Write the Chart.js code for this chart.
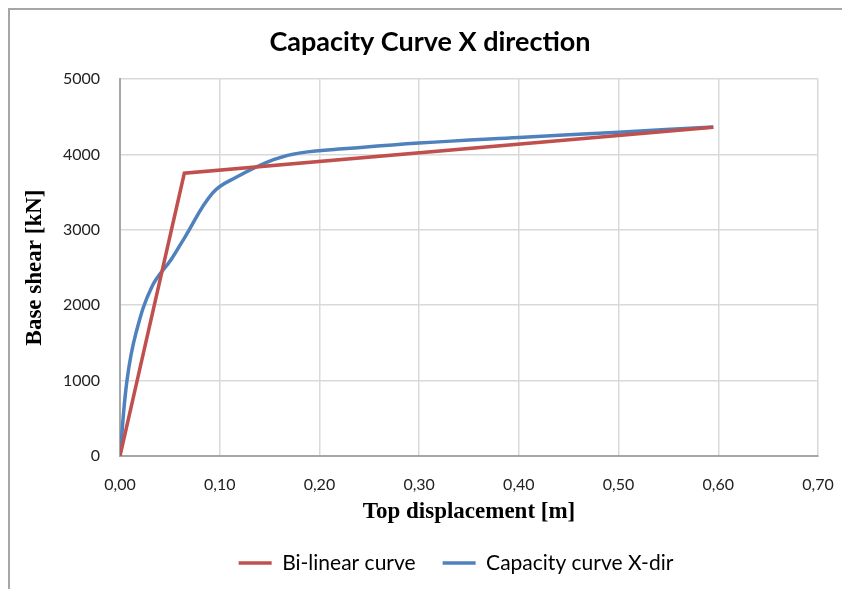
<!DOCTYPE html>
<html>
<head>
<meta charset="utf-8">
<script src="https://cdn.jsdelivr.net/npm/chart.js@4/dist/chart.umd.min.js"></script>
<style>
  html, body { margin: 0; padding: 0; background: #fff; }
  #wrap { width: 842px; height: 589px; }
</style>
</head>
<body>
<div id="wrap"><canvas id="capacityChart" width="842" height="589"></canvas></div>
<script>
// capacity curve (pushover)
const capDisp  = [0, 0.007, 0.016, 0.032, 0.052, 0.065, 0.093, 0.117, 0.154, 0.181, 0.231, 0.300, 0.400, 0.500, 0.595];
const capShear = [0, 1000, 1630, 2245, 2620, 2900, 3490, 3700, 3930, 4020, 4080, 4150, 4225, 4295, 4365];

// bi-linear idealisation
const bilinDisp  = [0, 0.0645, 0.595];
const bilinShear = [0, 3750, 4360];

const xTickLabels = ['0,00', '0,10', '0,20', '0,30', '0,40', '0,50', '0,60', '0,70'];
const yTickLabels = ['0', '1000', '2000', '3000', '4000', '5000'];

const toPoints = (xs, ys) => xs.map((x, i) => ({ x: x, y: ys[i] }));

// excel-style frame (left + top edge only visible in the screenshot)
const framePlugin = {
  id: 'frame',
  beforeDraw(chart) {
    const ctx = chart.ctx;
    ctx.save();
    ctx.strokeStyle = '#a6a6a6';
    ctx.lineWidth = 2;
    ctx.beginPath();
    ctx.moveTo(9, 589);
    ctx.lineTo(9, 9);
    ctx.lineTo(842, 9);
    ctx.stroke();
    ctx.restore();
  }
};

// excel centres title/legend a bit further right than chart.js does
const boxShift = {
  id: 'boxShift',
  afterLayout(chart) {
    chart.titleBlock.left += 21;
    chart.titleBlock.right += 21;
    chart.legend.left += 47;
    chart.legend.right += 47;
  }
};

const ctx = document.getElementById('capacityChart').getContext('2d');
new Chart(ctx, {
  type: 'line',
  data: {
    datasets: [
      {
        label: 'Bi-linear curve',
        data: toPoints(bilinDisp, bilinShear),
        borderColor: '#c0504d',
        backgroundColor: '#c0504d',
        borderWidth: 3.5,
        pointRadius: 0,
        tension: 0
      },
      {
        label: 'Capacity curve X-dir',
        data: toPoints(capDisp, capShear),
        borderColor: '#4f81bd',
        backgroundColor: '#4f81bd',
        borderWidth: 3.5,
        pointRadius: 0,
        tension: 0.4
      }
    ]
  },
  options: {
    responsive: false,
    animation: false,
    layout: {
      padding: { top: 0, left: 0, right: 24, bottom: 5.5 }
    },
    plugins: {
      title: {
        display: true,
        text: 'Capacity Curve X direction',
        color: '#000',
        font: { family: 'Lato', size: 27, weight: 'bold' },
        padding: { top: 25.8, bottom: 20.8 }
      },
      legend: {
        position: 'bottom',
        labels: {
          color: '#000',
          font: { family: 'Lato', size: 21 },
          usePointStyle: true,
          pointStyle: 'line',
          pointStyleWidth: 33,
          padding: 27
        }
      },
      tooltip: { enabled: false }
    },
    scales: {
      x: {
        type: 'linear',
        min: 0,
        max: 0.7,
        afterFit(scale) { scale.height = 69.5; },
        ticks: {
          stepSize: 0.1,
          padding: 0,
          color: '#222',
          font: { family: 'Lato', size: 16 },
          callback: (v) => xTickLabels[Math.round(v * 10)]
        },
        grid: { color: '#d9d9d9', lineWidth: 1.5, tickLength: 19, tickColor: 'rgba(0,0,0,0)' },
        border: { color: '#a6a6a6', width: 2 },
        title: {
          display: true,
          text: 'Top displacement [m]',
          color: '#000',
          font: { family: 'Liberation Serif', size: 23, weight: 'bold' },
          padding: { top: 0, bottom: 0 }
        }
      },
      y: {
        min: 0,
        max: 5000,
        afterFit(scale) { scale.width = 120; },
        ticks: {
          stepSize: 1000,
          padding: 20,
          color: '#222',
          font: { family: 'Lato', size: 16 },
          callback: (v) => yTickLabels[Math.round(v / 1000)]
        },
        grid: { color: '#d9d9d9', lineWidth: 1.5, drawTicks: false },
        border: { color: '#a6a6a6', width: 2 },
        title: {
          display: true,
          text: 'Base shear [kN]',
          color: '#000',
          font: { family: 'Liberation Serif', size: 23, weight: 'bold' },
          padding: { top: 21.2, bottom: 0 }
        }
      }
    }
  },
  plugins: [framePlugin, boxShift]
});
</script>
</body>
</html>
